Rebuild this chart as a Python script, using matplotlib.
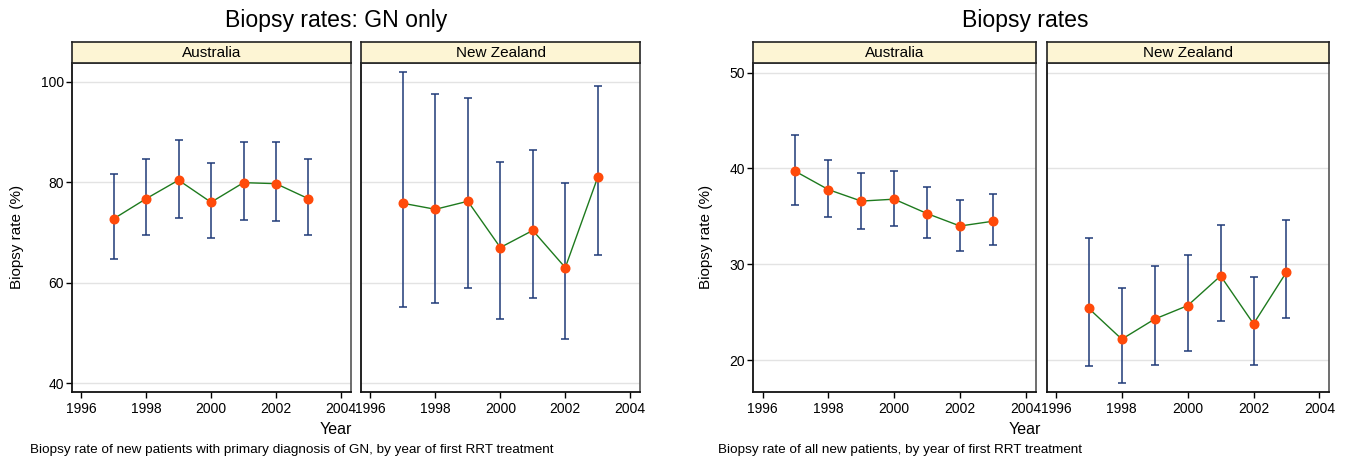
import numpy as np
import matplotlib.pyplot as plt
import matplotlib

matplotlib.rcParams['font.family'] = ['Liberation Sans', 'DejaVu Sans']

years = np.array([1997, 1998, 1999, 2000, 2001, 2002, 2003])
regions = ['Australia', 'New Zealand']

# GN only
gn_aus = np.array([72.7, 76.7, 80.4, 76.0, 79.9, 79.7, 76.7])
gn_aus_lo = np.array([64.7, 69.4, 72.9, 68.8, 72.4, 72.2, 69.4])
gn_aus_hi = np.array([81.6, 84.7, 88.4, 83.8, 88.0, 87.9, 84.6])
gn_nz = np.array([75.8, 74.6, 76.2, 67.0, 70.4, 63.0, 81.0])
gn_nz_lo = np.array([55.2, 56.0, 59.0, 52.7, 56.9, 48.9, 65.5])
gn_nz_hi = np.array([101.9, 97.6, 96.8, 84.0, 86.3, 79.8, 99.1])

# all new patients
all_aus = np.array([39.7, 37.8, 36.6, 36.8, 35.3, 34.0, 34.5])
all_aus_lo = np.array([36.2, 34.9, 33.7, 34.0, 32.7, 31.4, 32.0])
all_aus_hi = np.array([43.5, 40.9, 39.5, 39.7, 38.1, 36.7, 37.3])
all_nz = np.array([25.4, 22.2, 24.3, 25.7, 28.8, 23.8, 29.2])
all_nz_lo = np.array([19.4, 17.6, 19.5, 21.0, 24.1, 19.5, 24.4])
all_nz_hi = np.array([32.7, 27.5, 29.8, 31.0, 34.1, 28.7, 34.6])

W, H = 1349, 459
fig = plt.figure(figsize=(W / 100, H / 100), dpi=100)

navy = '#1f3a78'
green = '#1e7a1e'
orange = '#ff4a0a'
header_col = '#fdf5d4'


def px(x0, y0, x1, y1):
    # pixel box -> figure fraction
    return [x0 / W, 1 - y1 / H, (x1 - x0) / W, (y1 - y0) / H]


def panel(x0, x1, name, r, lo, hi, ylim, yticks, show_y):
    ax = fig.add_axes(px(x0, 63, x1, 392.3))
    ax.errorbar(years, r, yerr=[r - lo, hi - r], fmt='none', ecolor=navy,
                elinewidth=1.1, capsize=2.6, capthick=1.1, zorder=2)
    ax.plot(years, r, color=green, lw=1.0, zorder=3)
    ax.plot(years, r, 'o', color=orange, ms=6.2, mec=orange, zorder=4)
    ax.set_xlim(1995.72, 2004.3)
    ax.set_ylim(*ylim)
    ax.set_xticks([1996, 1998, 2000, 2002, 2004])
    ax.set_yticks(yticks)
    ax.yaxis.grid(True, color='#e3e3e3', lw=1)
    ax.set_axisbelow(True)
    ax.tick_params(axis='x', labelsize=10, length=4, width=1, pad=3)
    if show_y:
        ax.tick_params(axis='y', labelsize=10, length=4, width=1, pad=2)
    else:
        ax.tick_params(axis='y', left=False, labelleft=False)
    for s in ['top', 'right']:
        ax.spines[s].set_color('#555555')
        ax.spines[s].set_linewidth(1.2)
    for s in ['left', 'bottom']:
        ax.spines[s].set_color('#111111')
        ax.spines[s].set_linewidth(1.3)
    hd = fig.add_axes(px(x0, 42.3, x1, 63))
    hd.set_facecolor(header_col)
    hd.set_xticks([])
    hd.set_yticks([])
    for s in hd.spines.values():
        s.set_color('#222222')
        s.set_linewidth(1.2)
    hd.text(0.5, 0.5, name, ha='center', va='center', fontsize=11,
            transform=hd.transAxes)
    return ax


# left chart: GN only
panel(72, 350.7, regions[0], gn_aus, gn_aus_lo, gn_aus_hi, (38.2, 103.7), [40, 60, 80, 100], True)
panel(361.3, 640, regions[1], gn_nz, gn_nz_lo, gn_nz_hi, (38.2, 103.7), [40, 60, 80, 100], False)
fig.text(336 / W, 1 - 20 / H, 'Biopsy rates: GN only', ha='center', va='center', fontsize=16.6)
fig.text(336 / W, 1 - 430 / H, 'Year', ha='center', va='center', fontsize=11.5)
fig.text(17 / W, 1 - 237 / H, 'Biopsy rate (%)', ha='center', va='center', fontsize=11, rotation=90)
fig.text(30 / W, 1 - 450 / H, 'Biopsy rate of new patients with primary diagnosis of GN, by year of first RRT treatment',
         ha='left', va='center', fontsize=9.7)

# right chart: all patients
panel(753.3, 1035.7, regions[0], all_aus, all_aus_lo, all_aus_hi, (16.66, 51.0), [20, 30, 40, 50], True)
panel(1046.7, 1329.3, regions[1], all_nz, all_nz_lo, all_nz_hi, (16.66, 51.0), [20, 30, 40, 50], False)
fig.text(1025 / W, 1 - 20 / H, 'Biopsy rates', ha='center', va='center', fontsize=16.6)
fig.text(1025 / W, 1 - 430 / H, 'Year', ha='center', va='center', fontsize=11.5)
fig.text(706 / W, 1 - 237 / H, 'Biopsy rate (%)', ha='center', va='center', fontsize=11, rotation=90)
fig.text(718 / W, 1 - 450 / H, 'Biopsy rate of all new patients, by year of first RRT treatment',
         ha='left', va='center', fontsize=9.7)

fig.savefig('out.png', dpi=100)
